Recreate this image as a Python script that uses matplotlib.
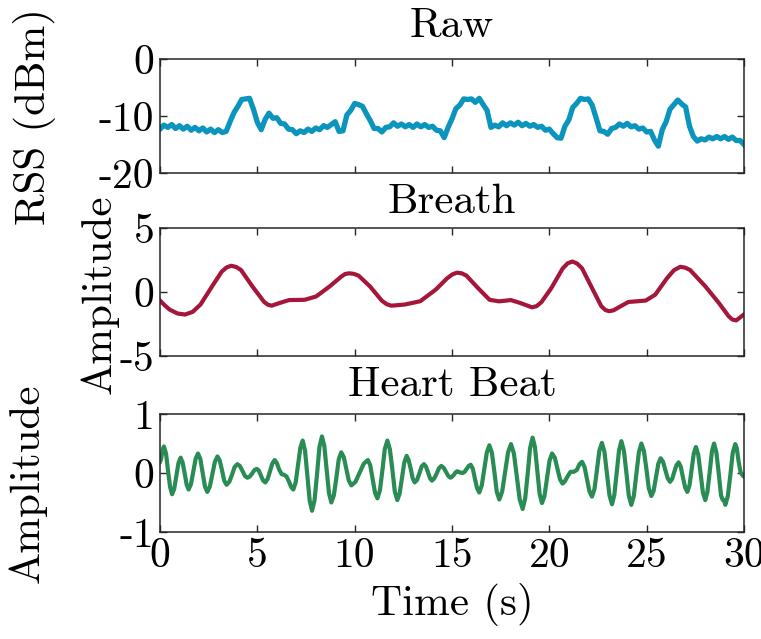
import matplotlib
matplotlib.use("Agg")
import matplotlib.pyplot as plt
import numpy as np

plt.rcParams["font.family"] = ["cmr10", "DejaVu Serif"]
plt.rcParams["axes.unicode_minus"] = False
plt.rcParams["mathtext.fontset"] = "cm"

# raw RSS, one reading every 0.2 s from 0 to 30 s
raw_rss = [
    -12.3, -11.6, -12.0, -11.5, -12.2, -11.7, -12.3, -11.8, -12.5, -12.0,
    -12.6, -12.1, -12.8, -12.3, -12.9, -12.4, -12.9, -12.7, -11.0, -9.4,
    -8.3, -7.1, -7.0, -6.9, -8.8, -11.1, -12.4, -10.6, -9.5, -10.4,
    -10.3, -11.3, -11.4, -12.3, -12.4, -13.1, -12.6, -12.9, -12.3, -12.7,
    -12.1, -12.4, -11.7, -12.0, -11.5, -11.0, -12.7, -12.6, -9.8, -9.0,
    -7.8, -8.0, -8.3, -9.6, -10.8, -12.2, -12.2, -12.8, -12.0, -11.9,
    -11.2, -11.8, -11.4, -11.9, -11.5, -12.0, -11.4, -11.9, -11.5, -12.0,
    -11.8, -12.5, -12.6, -13.8, -12.0, -10.5, -8.7, -8.1, -7.0, -7.1,
    -7.0, -7.6, -6.9, -8.0, -9.0, -12.0, -11.6, -11.9, -11.2, -11.7,
    -11.2, -11.6, -11.1, -11.7, -11.3, -11.8, -11.5, -12.0, -11.8, -12.5,
    -12.3, -13.1, -13.8, -13.9, -11.8, -10.7, -8.5, -7.8, -6.9, -7.1,
    -7.0, -8.1, -10.3, -12.6, -12.7, -13.2, -12.2, -12.0, -11.4, -11.8,
    -11.3, -11.9, -11.7, -12.3, -12.1, -12.8, -12.7, -14.2, -15.3, -12.4,
    -11.0, -8.8, -8.0, -7.2, -7.9, -8.4, -11.8, -13.6, -14.4, -14.0,
    -14.2, -13.7, -14.0, -13.6, -14.0, -13.6, -14.1, -13.7, -14.3, -14.3,
    -15.0,
]

breath_t = [
    0.0, 0.25, 0.5, 0.9, 1.29, 1.68, 2.08, 2.67, 3.17, 3.42,
    3.66, 3.92, 4.16, 4.75, 5.35, 5.55, 5.74, 6.14, 6.63, 7.43,
    8.02, 8.71, 9.31, 9.50, 9.70, 9.95, 10.20, 10.79, 11.39, 11.64,
    11.88, 12.57, 13.37, 14.16, 14.75, 15.00, 15.25, 15.50, 15.74, 16.34,
    16.93, 17.42, 18.02, 18.51, 19.11, 19.35, 19.60, 20.10, 20.69, 20.95,
    21.19, 21.43, 21.68, 22.28, 22.67, 22.87, 23.07, 23.30, 23.56, 24.06,
    24.95, 25.44, 26.04, 26.40, 26.73, 26.98, 27.23, 28.02, 28.71, 29.21,
    29.40, 29.60, 30.0,
]
breath_amp = [
    -0.67, -1.05, -1.38, -1.68, -1.76, -1.55, -0.98, 0.43, 1.59, 1.92,
    2.05, 1.95, 1.72, 0.43, -0.78, -1.00, -1.07, -0.86, -0.63, -0.61,
    -0.35, 0.43, 1.20, 1.40, 1.46, 1.42, 1.28, 0.43, -0.67, -0.95,
    -1.07, -0.98, -0.72, 0.18, 1.07, 1.36, 1.51, 1.46, 1.28, 0.30,
    -0.61, -0.73, -0.63, -0.86, -1.20, -1.10, -0.78, 0.30, 1.85, 2.25,
    2.38, 2.22, 1.85, 0.05, -1.11, -1.40, -1.50, -1.43, -1.20, -0.78,
    -0.67, -0.21, 1.07, 1.70, 1.97, 1.90, 1.72, 0.43, -0.86, -1.89,
    -2.15, -2.22, -1.75,
]

heart_t = [
    0.00, 0.05, 0.10, 0.15, 0.20, 0.31, 0.41, 0.52, 0.62, 0.73,
    0.84, 0.95, 1.06, 1.16, 1.27, 1.37, 1.47, 1.59, 1.71, 1.83,
    1.95, 2.07, 2.19, 2.31, 2.43, 2.56, 2.69, 2.82, 2.95, 3.07,
    3.19, 3.30, 3.42, 3.56, 3.70, 3.83, 3.97, 4.10, 4.23, 4.36,
    4.49, 4.61, 4.73, 4.85, 4.97, 5.08, 5.19, 5.30, 5.41, 5.53,
    5.65, 5.77, 5.89, 6.00, 6.12, 6.25, 6.37, 6.50, 6.62, 6.74,
    6.85, 6.97, 7.09, 7.21, 7.33, 7.45, 7.57, 7.69, 7.81, 7.94,
    8.07, 8.19, 8.32, 8.44, 8.56, 8.68, 8.80, 8.93, 9.06, 9.18,
    9.31, 9.44, 9.57, 9.70, 9.83, 10.04, 10.26, 10.47, 10.68, 10.80,
    10.93, 11.05, 11.17, 11.30, 11.43, 11.55, 11.68, 11.81, 11.94, 12.06,
    12.19, 12.31, 12.43, 12.55, 12.67, 12.77, 12.88, 12.98, 13.08, 13.20,
    13.32, 13.44, 13.56, 13.66, 13.77, 13.87, 13.97, 14.09, 14.21, 14.33,
    14.45, 14.57, 14.69, 14.81, 14.93, 15.01, 15.10, 15.18, 15.27, 15.40,
    15.54, 15.65, 15.75, 15.86, 15.96, 16.07, 16.18, 16.29, 16.40, 16.53,
    16.66, 16.79, 16.92, 17.05, 17.18, 17.30, 17.43, 17.58, 17.73, 17.88,
    18.03, 18.18, 18.33, 18.48, 18.63, 18.76, 18.89, 19.01, 19.14, 19.26,
    19.38, 19.50, 19.62, 19.75, 19.88, 20.01, 20.14, 20.28, 20.41, 20.55,
    20.68, 20.80, 20.95, 21.09, 21.25, 21.41, 21.55, 21.68, 21.81, 21.94,
    22.06, 22.19, 22.32, 22.45, 22.57, 22.70, 22.83, 22.96, 23.09, 23.22,
    23.34, 23.46, 23.58, 23.70, 23.83, 23.96, 24.08, 24.21, 24.34, 24.47,
    24.60, 24.73, 24.86, 24.99, 25.11, 25.24, 25.36, 25.48, 25.60, 25.72,
    25.84, 25.96, 26.08, 26.20, 26.31, 26.42, 26.53, 26.64, 26.75, 26.86,
    26.98, 27.09, 27.20, 27.31, 27.42, 27.53, 27.65, 27.77, 27.89, 28.01,
    28.12, 28.24, 28.35, 28.46, 28.58, 28.70, 28.82, 28.91, 28.98, 29.04,
    29.17, 29.30, 29.42, 29.55, 29.63, 29.72, 29.82, 29.92, 30.00,
]
heart_amp = [
    0.19, 0.23, 0.32, 0.41, 0.45, 0.33, 0.04, -0.24, -0.36, -0.27,
    -0.05, 0.17, 0.26, 0.18, -0.01, -0.20, -0.28, -0.19, 0.03, 0.24,
    0.33, 0.24, 0.01, -0.23, -0.32, -0.23, -0.02, 0.19, 0.28, 0.21,
    0.04, -0.13, -0.20, -0.15, -0.03, 0.10, 0.15, 0.12, 0.04, -0.05,
    -0.08, -0.06, -0.01, 0.05, 0.07, 0.04, -0.05, -0.13, -0.16, -0.10,
    0.03, 0.16, 0.22, 0.17, 0.06, -0.02, -0.03, -0.06, -0.14, -0.24,
    -0.28, -0.16, 0.14, 0.43, 0.55, 0.38, -0.05, -0.47, -0.64, -0.46,
    -0.01, 0.44, 0.62, 0.46, 0.06, -0.34, -0.50, -0.38, -0.08, 0.23,
    0.35, 0.27, 0.07, -0.13, -0.21, -0.15, 0.01, 0.16, 0.22, 0.13,
    -0.11, -0.34, -0.43, -0.29, 0.06, 0.41, 0.55, 0.40, 0.05, -0.31,
    -0.46, -0.35, -0.09, 0.18, 0.29, 0.22, 0.07, -0.09, -0.16, -0.12,
    -0.01, 0.11, 0.15, 0.11, 0.01, -0.09, -0.13, -0.09, -0.01, 0.08,
    0.12, 0.09, 0.02, -0.05, -0.08, -0.06, -0.03, 0.01, 0.03, 0.01,
    0.00, 0.02, 0.07, 0.12, 0.14, 0.07, -0.10, -0.26, -0.33, -0.21,
    0.07, 0.35, 0.47, 0.34, 0.01, -0.32, -0.45, -0.31, 0.02, 0.35,
    0.49, 0.33, -0.06, -0.45, -0.61, -0.43, -0.01, 0.42, 0.60, 0.44,
    0.04, -0.35, -0.51, -0.39, -0.09, 0.21, 0.33, 0.26, 0.08, -0.11,
    -0.18, -0.14, -0.05, 0.02, 0.02, 0.05, 0.15, 0.19, 0.10, -0.11,
    -0.31, -0.40, -0.27, 0.06, 0.38, 0.51, 0.36, -0.01, -0.38, -0.53,
    -0.37, 0.01, 0.38, 0.54, 0.38, 0.00, -0.38, -0.54, -0.39, -0.02,
    0.35, 0.50, 0.37, 0.06, -0.26, -0.39, -0.30, -0.07, 0.16, 0.25,
    0.19, 0.05, -0.09, -0.15, -0.10, 0.02, 0.13, 0.18, 0.11, -0.07,
    -0.25, -0.32, -0.21, 0.06, 0.33, 0.44, 0.31, -0.01, -0.33, -0.46,
    -0.32, 0.02, 0.36, 0.50, 0.35, 0.00, -0.38, -0.46, -0.46, -0.54,
    -0.39, -0.03, 0.34, 0.49, 0.42, 0.20, 0.02, -0.04, -0.06,
]

titles = ["Raw", "Breath", "Heart Beat"]
ylabels = ["RSS (dBm)", "Amplitude", "Amplitude"]
yticks = [[-20, -10, 0], [-5, 0, 5], [-1, 0, 1]]
xticks = [0, 5, 10, 15, 20, 25, 30]
colors = ["#0a94be", "#a5173a", "#298c55"]

fig = plt.figure(figsize=(7.61, 6.39), dpi=100)
W, H = 761, 639
# axes boxes in pixels: (top, bottom)
boxes = [(59, 173), (228, 356), (414, 532)]
left, right = 160, 744
title_pads = [16, 11, 13]
# ylabel centre positions in pixels (x, y)
label_pos = [(35, 117), (99, 294), (27, 483)]

axes = []
for i, (top, bot) in enumerate(boxes):
    ax = fig.add_axes([left / W, 1 - bot / H, (right - left) / W, (bot - top) / H])
    axes.append(ax)

raw_t = np.linspace(0, 30, len(raw_rss))
axes[0].plot(raw_t, raw_rss, color=colors[0], lw=3.8, solid_joinstyle="round")
axes[1].plot(breath_t, breath_amp, color=colors[1], lw=3.0, solid_joinstyle="round")
axes[2].plot(heart_t, heart_amp, color=colors[2], lw=3.0, solid_joinstyle="round")

for i, ax in enumerate(axes):
    ax.set_xlim(0, 30)
    ax.set_ylim(yticks[i][0], yticks[i][-1])
    ax.set_yticks(yticks[i])
    ax.set_xticks(xticks)
    ax.tick_params(direction="in", length=5, width=1, top=True, right=True,
                   labelsize=30, pad=4, color="#262626")
    if i < 2:
        ax.set_xticklabels([])
    for sp in ax.spines.values():
        sp.set_linewidth(1.1)
        sp.set_color("#262626")
    ax.set_title(titles[i], fontsize=31, pad=title_pads[i])
    lx, ly = label_pos[i]
    fig.text(lx / W, 1 - ly / H, ylabels[i], fontsize=31, rotation=90,
             ha="center", va="center")

axes[2].set_xlabel("Time (s)", fontsize=31, labelpad=6)

fig.savefig("out.png", dpi=100)
